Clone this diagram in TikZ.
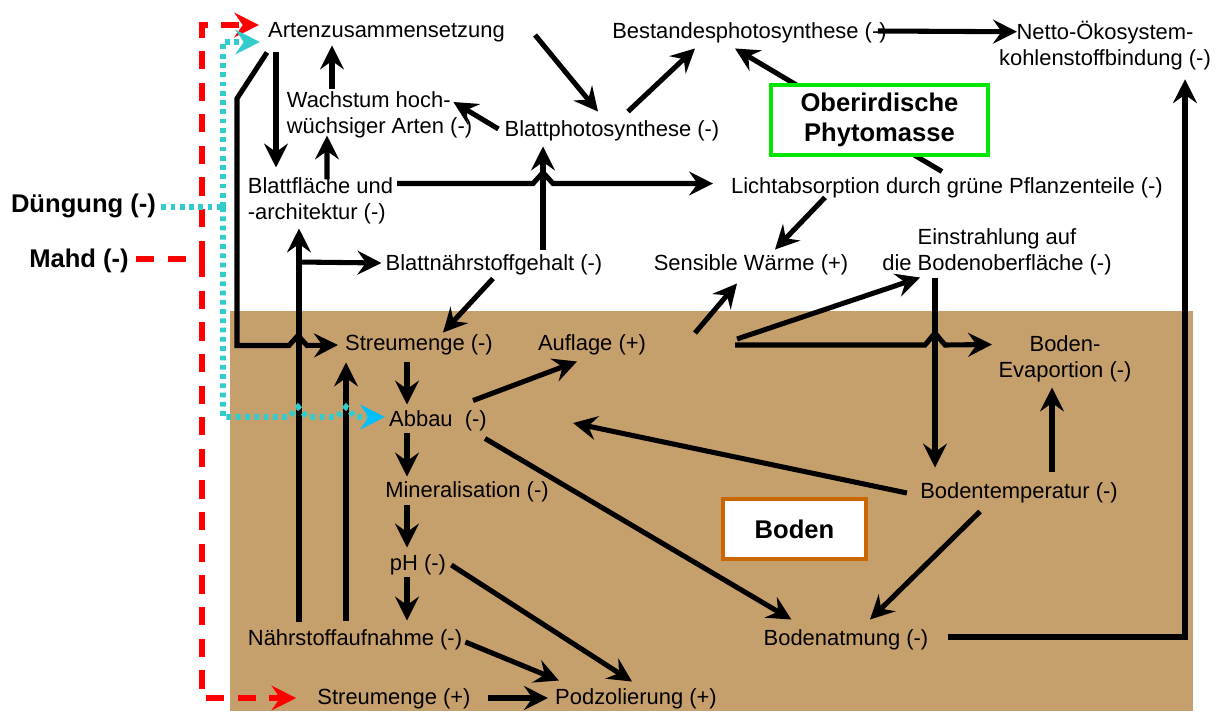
\documentclass[tikz,border=0pt]{standalone}
\usepackage{fontspec}
\setmainfont{Liberation Sans}
\usepackage{xcolor}
\usepackage{tikz}
\usetikzlibrary{
  arrows.meta,
  calc
}
\definecolor{soilbrown}{RGB}{198, 160, 108}
\definecolor{phytogreen}{RGB}{0, 230, 0}
\definecolor{bodenorange}{RGB}{204, 102, 0}
\definecolor{mahdred}{RGB}{255, 0, 0}
\definecolor{duengcyan}{RGB}{51, 204, 204}
\definecolor{duengblue}{RGB}{0, 191, 255}
\tikzset{
  factor/.style = {
    inner sep=0pt, font=\fontsize{15.6}{18.5}\selectfont,
    text height=11.2pt, text depth=3.3pt
  },
  factorml/.style = {
    inner sep=0pt, align=#1, font=\fontsize{15.6}{18.5}\selectfont
  },
  factorml/.default = center,
  driver/.style = {
    inner sep=0pt, font=\bfseries\fontsize{18.2}{21.3}\selectfont,
    text height=13pt, text depth=3.8pt
  },
  zonebox/.style = {
    rectangle, draw=#1, line width=2.8pt, fill=white,
    inner sep=0pt, align=center,
    font=\bfseries\fontsize{18.2}{21.3}\selectfont
  },
  arr/.style = {-{Stealth[length=17pt, width=17pt, inset=6pt]},
    line width=3.6pt},
  mahdline/.style = {draw=mahdred, line width=3.8pt,
    dash pattern=on 13pt off 9.5pt},
  mahdarr/.style = {mahdline,
    -{Stealth[length=17.5pt, width=17.5pt, inset=6pt]}},
  duengline/.style = {draw=duengcyan, line width=4pt,
    dash pattern=on 3.4pt off 3.2pt},
  duengarr/.style = {duengline,
    -{Stealth[length=17.5pt, width=17.5pt, inset=6pt, color=#1]}},
  duengarr/.default = duengcyan,
}

\begin{document}
\begin{tikzpicture}[x=0.025cm, y=-0.025cm]

  \useasboundingbox (0,0) rectangle (1221,711);
  \fill[soilbrown] (230,311) rectangle (1193,711);

  \node[factor] (arten) at (386.5,32) {Artenzusammensetzung};
  \node[factor] (bestand) at (749.5,33) {Bestandesphotosynthese (-)};
  \node[factorml] (netto) at (1105,45.5)
    {Netto-Ökosystem-\\kohlenstoffbindung (-)};
  \node[factorml=left] (wachstum) at (379.5,115)
    {Wachstum hoch-\\wüchsiger Arten (-)};
  \node[factor] (blattps) at (612,131) {Blattphotosynthese (-)};
  \node[factorml=left] (blattfl) at (320.5,201)
    {Blattfläche und\\-architektur (-)};
  \node[factor] (licht) at (947,188)
    {Lichtabsorption durch grüne Pflanzenteile (-)};
  \node[factor] (blattnae) at (494,265) {Blattnährstoffgehalt (-)};
  \node[factor] (sensible) at (751,265) {Sensible Wärme (+)};
  \node[factorml] (einstr) at (997,252)
    {Einstrahlung auf\\die Bodenoberfläche (-)};
  \node[factor] (streu1) at (419,345) {Streumenge (-)};
  \node[factor] (auflage) at (592,345) {Auflage (+)};
  \node[factorml] (evap) at (1065,359) {Boden-\\Evaportion (-)};
  \node[factor] (abbau) at (438,421) {Abbau\ \ (-)};
  \node[factor] (mineral) at (467,492) {Mineralisation (-)};
  \node[factor] (bodentemp) at (1019,493) {Bodentemperatur (-)};
  \node[factor] (ph) at (418,565) {pH (-)};
  \node[factor] (naehr) at (355,640) {Nährstoffaufnahme (-)};
  \node[factor] (bodenatm) at (846,640) {Bodenatmung (-)};
  \node[factor] (streu2) at (394,699) {Streumenge (+)};
  \node[factor] (podz) at (636,699) {Podzolierung (+)};

  \node[driver] (duengung) at (83.5,206) {Düngung (-)};
  \node[driver] (mahd) at (79,261) {Mahd (-)};

  \coordinate (split) at (299,262);
  \coordinate (soilA) at (695,333);
  \coordinate (soilB) at (735,345);
  \coordinate (mahdjoin) at (202,259);
  \coordinate (duengjoin) at (223,207);

  % Arrows
  \draw[arr] ($(arten.east)+(30,3)$) -- ($(blattps.north)+(-14,-9)$);
  \draw[arr] ($(blattps.north)+(16,-9)$) -- ($(bestand.south)+(-54.5,5)$);
  \draw[arr] ($(licht.north)+(-5,-6)$) -- ($(bestand.south)+(-14.5,5)$);
  \draw[arr] ($(bestand.east)+(-9,-2)$) -- ($(netto.north)+(-88,11)$);
  \draw[arr] ($(blattps.west)+(-6,-2)$) -- ($(wachstum.east)+(-19,-13)$);
  \draw[arr] ($(wachstum.north)+(-47.5,-2)$) -- ($(arten.south)+(-54.5,3)$);
  \draw[arr] ($(arten.south)+(-110.5,10)$) -- ($(blattfl.north)+(-44.5,-10)$);
  \draw[arr] ($(blattfl.north)+(6.5,2)$) -- ($(wachstum.south)+(-52.5,-3)$);
  \draw[arr] ($(arten.south)+(-119.5,10)$) -- ++(-30,46) -- ++(0,247)
    -- ++(52,0) -- ++(9,-10) -- ++(9,10) -- ($(streu1.west)+(-7,0)$);
  \draw[arr] ($(blattfl.north)+(76.5,6)$) -- ++(136,0) -- ++(10,-11)
    -- ++(10,11) -- ($(licht.north)+(-234,6)$);
  \draw[arr] ($(blattnae.north)+(49,-5)$) -- ($(blattps.south)+(-69,5)$);
  \draw[arr] ($(naehr.north)+(-56,-8)$) -- ($(blattfl.south)+(-21.5,4)$);
  \draw[arr] (split) -- ($(blattnae.west)+(-4,-2)$);
  \draw[arr] ($(naehr.north)+(-9,-9)$) -- ($(streu1.south)+(-73,7)$);
  \draw[arr] ($(blattnae.south)+(-1,3)$) -- ($(streu1.north)+(24,-2)$);
  \draw[arr] ($(licht.south)+(-122,-1)$) -- ($(sensible.north)+(24,-5)$);
  \draw[arr] (soilA) -- ($(sensible.south)+(-14,8)$);
  \draw[arr] ($(soilB)+(2,-6)$) -- ($(einstr.south)+(-77,2)$);
  \draw[arr] (soilB) -- ++(190,0) -- ++(10,-12) -- ++(10,12)
    -- ($(evap.north)+(-73,9)$);
  \draw[arr] ($(einstr.south)+(-62,2)$) -- ($(bodentemp.north)+(-84,-15)$);
  \draw[arr] ($(bodentemp.north)+(33,-11)$) -- ($(evap.south)+(-13,5)$);
  \draw[arr] ($(bodentemp.west)+(-13,0)$) -- ($(abbau.east)+(86,2)$);
  \draw[arr] ($(bodentemp.south)+(-39,8)$) -- ($(bodenatm.north)+(24,-10)$);
  \draw[arr] ($(bodenatm.east)+(19,-3)$) -| ($(netto.south)+(80,9)$);
  \draw[arr] ($(streu1.south)+(-12,7)$) -- ($(abbau.north)+(-31,-6)$);
  \draw[arr] ($(abbau.south)+(-31,2)$) -- ($(mineral.north)+(-60,-5)$);
  \draw[arr] ($(mineral.south)+(-60,3)$) -- ($(ph.north)+(-11,-7)$);
  \draw[arr] ($(ph.south)+(-11,2)$) -- ($(naehr.north)+(52,-9)$);
  \draw[arr] ($(abbau.north east)+(-14,-10)$) -- ($(auflage.south)+(-15,6)$);
  \draw[arr] ($(abbau.south east)+(-2,7)$) -- ($(bodenatm.north west)+(28,-10)$);
  \draw[arr] ($(ph.east)+(5,0)$) -- ($(podz.north)+(-4,-7)$);
  \draw[arr] ($(naehr.east)+(3,2)$) -- ($(podz.north west)+(4,-8)$);
  \draw[arr] ($(streu2.east)+(17,-1)$) -- ($(podz.west)+(-7,-1)$);

  % Mahd und Duengung
  \draw[mahdline] ($(mahd.east)+(7,-2)$) -- (mahdjoin);
  \draw[mahdarr] (mahdjoin) |- ($(arten.west)+(-9,-7)$);
  \draw[mahdarr] (mahdjoin) |- ($(streu2.west)+(-21,-1)$);
  \draw[duengline] ($(duengung.east)+(5,1)$) -- (duengjoin);
  \draw[duengarr] (duengjoin) |- ($(arten.west)+(-8,10)$);
  \draw[duengarr=duengblue] (duengjoin) -- ++(0,210) -- ++(66,0)
    -- ++(9,-10) -- ++(9,10) -- ++(30,0) -- ++(9,-10) -- ++(9,10)
    -- ($(abbau.west)+(-4,-4)$);

  % Zone boxes
  \node[zonebox=phytogreen, minimum width=5.425cm, minimum height=1.75cm]
    (phyto) at (879.5,120) {Oberirdische\\Phytomasse};
  \node[zonebox=bodenorange, minimum width=3.575cm, minimum height=1.5cm]
    (boden) at (794.5,529) {Boden};

\end{tikzpicture}
\end{document}
